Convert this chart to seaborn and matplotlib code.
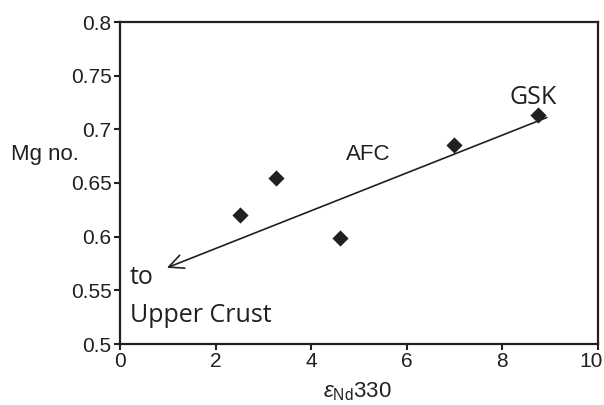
import matplotlib
matplotlib.use("Agg")
import matplotlib.pyplot as plt
import matplotlib.transforms as mtransforms
import seaborn as sns
import pandas as pd
from matplotlib import font_manager

# data
eps_nd = [2.51, 3.26, 4.60, 6.99, 8.74]
mg_no = [0.620, 0.655, 0.599, 0.685, 0.713]
arrow_start = (8.93, 0.711)
arrow_end = (0.98, 0.571)
x_ticks = [0, 2, 4, 6, 8, 10]
y_ticks = [0.5, 0.55, 0.6, 0.65, 0.7, 0.75, 0.8]
y_tick_labels = ["0.5", "0.55", "0.6", "0.65", "0.7", "0.75", "0.8"]

sns.set_style("ticks")
names = {f.name for f in font_manager.fontManager.ttflist}
narrow = "Liberation Sans Narrow" if "Liberation Sans Narrow" in names else "Liberation Sans"
plt.rcParams["font.family"] = [narrow, "DejaVu Sans"]
plt.rcParams["mathtext.fontset"] = "custom"
plt.rcParams["mathtext.rm"] = narrow
plt.rcParams["mathtext.it"] = narrow + ":italic"

INK = "#231f20"
df = pd.DataFrame({"eps": eps_nd, "mg": mg_no})

fig = plt.figure(figsize=(6.04, 4.05), dpi=100)
ax = fig.add_axes([120 / 604, 61 / 405, 478 / 604, 322 / 405])
sns.scatterplot(data=df, x="eps", y="mg", marker="D", s=68, color=INK,
                edgecolor=INK, linewidth=0, ax=ax, zorder=3)

ax.annotate("", xy=arrow_end, xytext=arrow_start,
            arrowprops=dict(arrowstyle="->,head_length=0.42,head_width=0.2",
                            mutation_scale=25, color=INK, lw=1.2,
                            shrinkA=0, shrinkB=0))

ax.set_xlim(0, 10)
ax.set_ylim(0.5, 0.8)
ax.set_xticks(x_ticks)
ax.set_yticks(y_ticks)
ax.set_yticklabels(y_tick_labels)
ax.tick_params(labelsize=15, length=4, width=1.5, color=INK, labelcolor=INK, pad=2)
for sp in ax.spines.values():
    sp.set_visible(True)
    sp.set_linewidth(1.6)
    sp.set_color(INK)
ax.set_xlabel("")
ax.set_ylabel("")

# nudge the last x tick label inward, as in the reference
fig.canvas.draw()
last = ax.get_xticklabels()[-1]
last.set_transform(last.get_transform() +
                   mtransforms.ScaledTranslation(-7 / 100, 0, fig.dpi_scale_trans))

ax.text(5.19, 0.677, "AFC", fontsize=16, color=INK, ha="center", va="center")
myriad = ["Open Sans", "DejaVu Sans"]
ax.text(8.64, 0.730, "GSK", fontsize=18, color=INK, ha="center", va="center", family=myriad)
ax.text(0.2, 0.562, "to", fontsize=18, color=INK, ha="left", va="center", family=myriad)
ax.text(0.2, 0.527, "Upper Crust", fontsize=18, color=INK, ha="left", va="center", family=myriad)

fig.text(45 / 604, 1 - 155 / 405, "Mg no.", fontsize=16, color=INK, ha="center", va="center")
fig.text(357 / 604, 1 - 392 / 405, r"$\mathit{\varepsilon}_{\mathrm{Nd}}$330", fontsize=16,
         color=INK, ha="center", va="center")

fig.savefig("out.png", dpi=100)
